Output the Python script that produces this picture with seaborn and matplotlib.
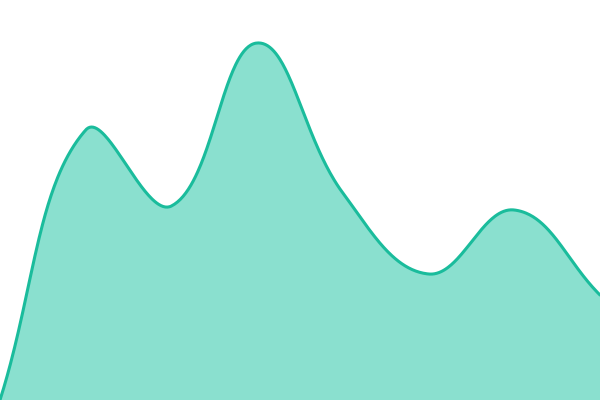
import numpy as np
import pandas as pd
import seaborn as sns
import matplotlib
matplotlib.use("Agg")
import matplotlib.pyplot as plt

# values (0 = bottom edge, 400 = top edge)
steps = [0, 1, 2, 3, 4, 5, 6, 7]
values = [0, 270, 194, 357, 207, 126, 190, 105]

LINE = "#1abc9c"
FILL = "#8ae0cf"
W, H = 600, 400
TENSION = 0.4


def spline_curve(px, py, t=TENSION, per_seg=80):
    """Bezier spline through pixel points, control points as Chart.js builds them."""
    pts = np.column_stack([px, py]).astype(float)
    n = len(pts)
    cp_prev = np.zeros_like(pts)
    cp_next = np.zeros_like(pts)
    for i in range(n):
        prev = pts[max(i - 1, 0)]
        cur = pts[i]
        nxt = pts[min(i + 1, n - 1)]
        d01 = np.hypot(*(cur - prev))
        d12 = np.hypot(*(nxt - cur))
        tot = d01 + d12
        s01 = d01 / tot if tot else 0.0
        s12 = d12 / tot if tot else 0.0
        cp_prev[i] = cur - t * s01 * (nxt - prev)
        cp_next[i] = cur + t * s12 * (nxt - prev)
    out = []
    for i in range(n - 1):
        p1, c1, c2, p2 = pts[i], cp_next[i], cp_prev[i + 1], pts[i + 1]
        u = np.linspace(0, 1, per_seg, endpoint=(i == n - 2))[:, None]
        seg = ((1 - u) ** 3) * p1 + 3 * ((1 - u) ** 2) * u * c1 \
            + 3 * (1 - u) * u**2 * c2 + u**3 * p2
        out.append(seg)
    out = np.vstack(out)
    return out[:, 0], out[:, 1]


# work in pixels so the spline matches the screen geometry
step_px = W / (steps[-1] - steps[0])
cx, cy = spline_curve(np.array(steps) * step_px, values)
curve = pd.DataFrame({"x": cx / step_px, "y": cy})

sns.set_style("white")
fig = plt.figure(figsize=(6, 4), dpi=100)
ax = fig.add_axes([0, 0, 1, 1])
ax.fill_between(curve["x"], curve["y"], 0, color=FILL, linewidth=0)
sns.lineplot(data=curve, x="x", y="y", ax=ax, color=LINE, linewidth=2.2,
             sort=False, estimator=None)
ax.set_xlim(steps[0], steps[-1])
ax.set_ylim(0, H)
ax.axis("off")
fig.savefig("out.png", dpi=100)
